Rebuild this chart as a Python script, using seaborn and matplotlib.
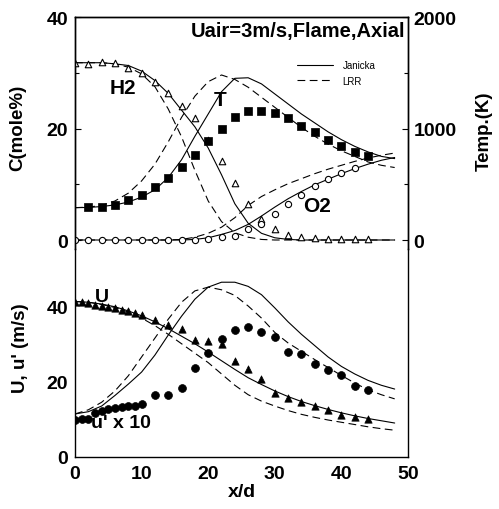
import numpy as np
import pandas as pd
import matplotlib
matplotlib.use("Agg")
import matplotlib.pyplot as plt
import seaborn as sns
from matplotlib.ticker import MultipleLocator, FixedLocator
from matplotlib.lines import Line2D

# ---------------- data ----------------
# top panel: measured species (mole %) and temperature (K)
x_h2 = [0, 2, 4, 6, 8, 10, 12, 14, 16, 18, 20, 22, 24, 26, 28, 30, 32, 34, 36, 38, 40, 42, 44]
h2_meas = [31.8, 31.6, 31.9, 31.8, 30.8, 29.9, 28.3, 26.4, 24.0, 21.9, 17.9, 14.2, 10.2, 6.4, 3.8,
           2.0, 0.9, 0.5, 0.3, 0.2, 0.2, 0.1, 0.1]
x_o2 = [0, 2, 4, 6, 8, 10, 12, 14, 16, 18, 20, 22, 24, 26, 28, 30, 32, 34, 36, 38, 40, 42]
o2_meas = [0, 0, 0, 0, 0, 0, 0, 0, 0, 0, 0.1, 0.5, 0.8, 2.0, 2.9, 4.7, 6.5, 8.1, 9.7, 10.9, 12.0, 12.9]
x_t = [2, 4, 6, 8, 10, 12, 14, 16, 18, 20, 22, 24, 26, 28, 30, 32, 34, 36, 38, 40, 42, 44]
t_meas = [299, 300, 314, 359, 404, 473, 553, 652, 762, 888, 995, 1103, 1160, 1160, 1142, 1097,
          1022, 965, 894, 846, 786, 756]

# model curves, top panel
x_curve = [0, 2, 4, 6, 8, 10, 12, 14, 16, 18, 20, 22, 24, 26, 28, 30, 32, 34, 36, 38, 40, 42, 44, 46, 48]
h2_janicka = [31.8, 31.8, 31.8, 31.6, 31.3, 30.3, 28.6, 26.3, 23.3, 20.3, 16.5, 11.7, 6.5, 3.0, 1.2,
              0.4, 0.1, 0, 0, 0, 0, 0, 0, 0, 0]
h2_lrr = [31.8, 31.8, 31.8, 31.6, 31.0, 29.8, 27.5, 23.5, 18.5, 12.5, 7.0, 3.3, 1.3, 0.5, 0.1,
          0, 0, 0, 0, 0, 0, 0, 0, 0, 0]
o2_janicka = [0, 0, 0, 0, 0, 0, 0, 0, 0, 0.1, 0.4, 1.0, 1.7, 2.8, 4.3, 5.9, 7.4, 8.7, 9.9, 10.9,
              11.9, 12.8, 13.6, 14.3, 14.8]
o2_lrr = [0, 0, 0, 0, 0, 0, 0, 0, 0.1, 0.5, 1.2, 2.3, 4.0, 6.2, 7.8, 9.0, 10.1, 11.0, 11.9, 12.7,
          13.4, 14.1, 14.7, 15.2, 15.6]
t_janicka = [290, 292, 300, 315, 340, 385, 450, 560, 720, 930, 1130, 1330, 1450, 1455, 1400, 1310,
             1220, 1130, 1050, 970, 900, 840, 790, 750, 730]
t_lrr = [290, 295, 310, 350, 420, 530, 680, 880, 1100, 1290, 1420, 1480, 1440, 1370, 1280, 1190,
         1100, 1010, 930, 860, 800, 750, 700, 670, 650]

# bottom panel: measured U and u' x 10 (m/s)
x_u = [0, 1, 2, 3, 4, 5, 6, 7, 8, 9, 10, 12, 14, 16, 18, 20, 22, 24, 26, 28, 30, 32, 34, 36, 38, 40, 42, 44]
u_meas = [41.0, 41.0, 40.7, 40.3, 40.0, 39.7, 39.4, 39.0, 38.6, 38.2, 37.5, 36.2, 35.0, 34.0, 31.0,
          30.8, 30.0, 25.3, 23.2, 20.6, 17.0, 15.6, 14.6, 13.6, 12.4, 11.2, 10.6, 10.0]
x_up = [0, 1, 2, 3, 4, 5, 6, 7, 8, 9, 10, 12, 14, 16, 18, 20, 22, 24, 26, 28, 30, 32, 34, 36, 38, 40, 42, 44]
up_meas = [9.9, 10.1, 10.1, 11.6, 12.3, 12.7, 13.0, 13.2, 13.6, 13.6, 14.0, 16.5, 16.3, 18.3, 23.5,
           27.5, 31.3, 33.6, 34.4, 33.2, 31.8, 27.9, 27.3, 24.7, 23.0, 21.8, 18.8, 17.7]

# model curves, bottom panel
u_janicka = [41.2, 41.0, 40.5, 39.8, 38.7, 37.4, 35.8, 34.0, 32.0, 30.0, 27.8, 25.5, 23.2, 21.0,
             19.2, 17.5, 16.0, 14.7, 13.6, 12.6, 11.7, 10.9, 10.2, 9.6, 9.0]
u_lrr = [41.2, 41.0, 40.4, 39.6, 38.4, 36.8, 34.8, 32.5, 30.0, 27.5, 25.0, 22.0, 19.0, 16.5, 14.8,
         13.5, 12.3, 11.3, 10.5, 9.8, 9.2, 8.6, 8.0, 7.5, 7.1]
up_janicka = [11.4, 12.0, 13.5, 16.3, 19.3, 22.5, 27.0, 32.3, 37.3, 41.8, 45.0, 46.3, 46.3, 45.2,
              43.0, 39.5, 35.8, 32.5, 29.5, 26.5, 24.0, 22.0, 20.3, 19.0, 18.0]
up_lrr = [11.4, 12.5, 14.5, 17.5, 21.5, 26.5, 31.5, 36.5, 41.0, 44.0, 45.0, 44.3, 42.8, 40.0, 36.8,
          33.0, 30.2, 28.0, 25.8, 23.7, 21.6, 19.6, 17.8, 16.5, 15.4]

legend_labels = ["Janicka", "LRR"]

# ---------------- styling ----------------
sns.set_theme(style="white")
plt.rcParams["font.family"] = ["Liberation Sans", "DejaVu Sans"]
plt.rcParams["axes.linewidth"] = 1.0
for key in ("text.color", "axes.labelcolor", "xtick.color", "ytick.color", "axes.edgecolor"):
    plt.rcParams[key] = "black"

fig = plt.figure(figsize=(4.99, 5.10), dpi=100)
W, H = 499.0, 510.0
left, right = 75 / W, 408 / W
ax1 = fig.add_axes([left, 1 - 250 / H, right - left, (250 - 18) / H])
ax2 = fig.add_axes([left, 1 - 458 / H, right - left, (458 - 250) / H])
axT = ax1.twinx()

LW = 0.8
SOLID = "-"
DASH = (0, (7, 4))

def curve(ax, x, y, ls):
    sns.lineplot(x=x, y=y, ax=ax, color="black", linewidth=LW, linestyle=ls,
                 estimator=None, sort=False, legend=False)

# top panel: species
curve(ax1, x_curve, h2_janicka, SOLID)
curve(ax1, x_curve, h2_lrr, DASH)
curve(ax1, x_curve, o2_janicka, SOLID)
curve(ax1, x_curve, o2_lrr, DASH)
sns.scatterplot(x=x_h2, y=h2_meas, ax=ax1, marker="^", s=22, color="white",
                edgecolor="black", linewidth=0.8, zorder=3, legend=False)
sns.scatterplot(x=x_o2, y=o2_meas, ax=ax1, marker="o", s=20, color="white",
                edgecolor="black", linewidth=0.8, zorder=3, legend=False)

# top panel: temperature on right axis
curve(axT, x_curve, t_janicka, SOLID)
curve(axT, x_curve, t_lrr, DASH)
sns.scatterplot(x=x_t, y=t_meas, ax=axT, marker="s", s=38, color="black",
                edgecolor="black", linewidth=0.5, zorder=3, legend=False)

# bottom panel
curve(ax2, x_curve, u_janicka, SOLID)
curve(ax2, x_curve, u_lrr, DASH)
curve(ax2, x_curve, up_janicka, SOLID)
curve(ax2, x_curve, up_lrr, DASH)
sns.scatterplot(x=x_u, y=u_meas, ax=ax2, marker="^", s=28, color="black",
                edgecolor="black", linewidth=0.5, zorder=3, legend=False)
sns.scatterplot(x=x_up, y=up_meas, ax=ax2, marker="o", s=32, color="black",
                edgecolor="black", linewidth=0.5, zorder=3, legend=False)

# ---------------- axes ----------------
ybot = -9 / (223 / 40.0)
ax1.set_xlim(0, 50)
ax1.set_ylim(ybot, 40)
axT.set_ylim(ybot * 50, 2000)
ax2.set_xlim(0, 50)
ax2.set_ylim(0, 208 / (151 / 40.0))

TICKFONT = dict(fontsize=14, fontweight="bold")

ax1.yaxis.set_major_locator(FixedLocator([0, 20, 40]))
ax1.yaxis.set_minor_locator(FixedLocator([10, 30]))
ax1.xaxis.set_major_locator(MultipleLocator(10))
ax1.xaxis.set_minor_locator(MultipleLocator(5))
ax1.spines["bottom"].set_position(("data", 0))
ax1.spines["bottom"].set_visible(False)
ax1.tick_params(axis="x", which="both", direction="in", labelbottom=False, length=4, width=0.8)
ax1.tick_params(axis="y", which="major", direction="in", length=4, width=0.8, pad=5)
ax1.tick_params(axis="y", which="minor", direction="in", length=3, width=0.8)

axT.yaxis.set_major_locator(FixedLocator([0, 1000, 2000]))
axT.yaxis.set_minor_locator(FixedLocator([500, 1500]))
axT.tick_params(axis="y", which="major", direction="in", length=4, width=0.8, pad=4)
axT.tick_params(axis="y", which="minor", direction="in", length=3, width=0.8)
axT.spines["bottom"].set_visible(False)
axT.set_yticks([0, 1000, 2000])
axT.set_yticklabels(["0", "1000", "2000"], **TICKFONT)

ax2.yaxis.set_major_locator(FixedLocator([0, 20, 40]))
ax2.yaxis.set_minor_locator(FixedLocator([10, 30, 50]))
ax2.xaxis.set_major_locator(MultipleLocator(10))
ax2.xaxis.set_minor_locator(MultipleLocator(5))
ax2.spines["top"].set_visible(False)
ax2.tick_params(axis="both", which="major", direction="in", length=4, width=0.8)
ax2.tick_params(axis="both", which="minor", direction="in", length=3, width=0.8)
ax2.tick_params(axis="y", pad=5)
ax2.tick_params(axis="x", pad=6)
ax2.set_yticks([0, 20, 40])
ax2.set_yticklabels(["0", "20", "40"], **TICKFONT)
ax2.set_xticks([0, 10, 20, 30, 40, 50])
ax2.set_xticklabels(["0", "10", "20", "30", "40", "50"], **TICKFONT)
ax1.set_yticks([0, 20, 40])
ax1.set_yticklabels(["0", "20", "40"], **TICKFONT)

for ax in (ax1, ax2, axT):
    ax.set_xlabel("")
    ax.set_ylabel("")
    for s in ax.spines.values():
        s.set_color("black")
    ax.set_facecolor("none")

# ---------------- text ----------------
def ftext(px, py, s, **kw):
    fig.text(px / W, 1 - py / H, s, color="black", **kw)

BOLD = dict(fontweight="bold")
ftext(18, 128, "C(mole%)", rotation=90, ha="center", va="center", fontsize=13.5, **BOLD)
ftext(484, 131, "Temp.(K)", rotation=90, ha="center", va="center", fontsize=13.5, **BOLD)
ftext(21, 348, "U, u' (m/s)", rotation=90, ha="center", va="center", fontsize=13.5, **BOLD)
ftext(242, 493, "x/d", ha="center", va="center", fontsize=14, **BOLD)
ftext(405, 31, "Uair=3m/s,Flame,Axial", ha="right", va="center", fontsize=14.5, **BOLD)

ftext(123, 88, "H2", ha="center", va="center", fontsize=15, **BOLD)
ftext(220, 100, "T", ha="center", va="center", fontsize=15, **BOLD)
ftext(317, 207, "O2", ha="center", va="center", fontsize=15, **BOLD)
ftext(102, 298, "U", ha="center", va="center", fontsize=14, **BOLD)
ftext(91, 423, "u' x 10", ha="left", va="center", fontsize=14, **BOLD)

handles = [Line2D([], [], color="black", lw=LW, linestyle=SOLID),
           Line2D([], [], color="black", lw=LW, linestyle=DASH)]
fig.legend(handles, legend_labels, loc="upper left", bbox_to_anchor=(297 / W, 1 - 61 / H),
           frameon=False, fontsize=7, handlelength=3.7, handletextpad=1.0,
           borderpad=0, borderaxespad=0, labelspacing=0.6)

fig.savefig("out.png", dpi=100)
